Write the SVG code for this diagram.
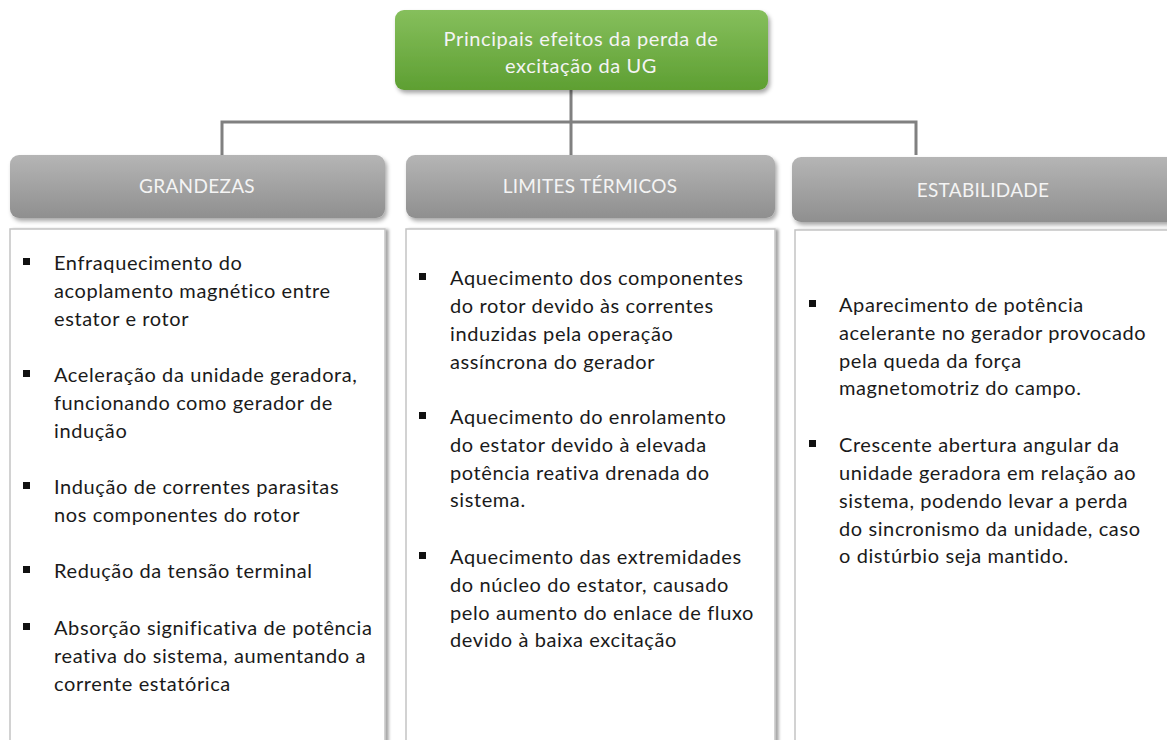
<svg xmlns="http://www.w3.org/2000/svg" width="1167" height="740" viewBox="0 0 1167 740">
<defs>
<linearGradient id="gGreen" x1="0" y1="0" x2="0" y2="1"><stop offset="0" stop-color="#86bf5c"/><stop offset="1" stop-color="#5e9f32"/></linearGradient>
<linearGradient id="gGray" x1="0" y1="0" x2="0" y2="1"><stop offset="0" stop-color="#b5b5b5"/><stop offset="1" stop-color="#8f8f8f"/></linearGradient>
<filter id="sh" x="-5%" y="-10%" width="115%" height="130%"><feDropShadow dx="2" dy="3" stdDeviation="2" flood-color="#000" flood-opacity="0.35"/></filter>
<filter id="sh2" x="-5%" y="-5%" width="115%" height="115%"><feDropShadow dx="3" dy="1" stdDeviation="1.5" flood-color="#000" flood-opacity="0.35"/></filter>
</defs>
<style>
.hdr{fill:url(#gGray);filter:url(#sh)}
.hdrT{font-family:Lato,"Liberation Sans",sans-serif;font-size:19px;letter-spacing:0.3px;fill:#f4f4f4;text-anchor:middle}
.ttl{font-family:Lato,"Liberation Sans",sans-serif;font-size:20px;letter-spacing:0.6px;fill:#f4f4f4;text-anchor:middle}
.box{fill:#fff;stroke:#c4c4c4;stroke-width:1.5;filter:url(#sh2)}
.t{font-family:Lato,"Liberation Sans",sans-serif;font-size:20px;letter-spacing:0.6px;fill:#1a1a1a}
.b{fill:#111}
.con{fill:none;stroke:#808080;stroke-width:3}
</style>
<rect width="1167" height="740" fill="#fff"/>
<g id="connectors">
<path class="con" d="M571 90V155M222 155V122H916V155"/>
</g>
<g id="root">
<rect x="395" y="10" width="373" height="80" rx="9" fill="url(#gGreen)" filter="url(#sh)"/>
<text x="581" y="46" class="ttl">Principais efeitos da perda de</text>
<text x="581" y="73" class="ttl">excitação da UG</text>
</g>
<g id="grandezas">
<rect class="hdr" x="10" y="155" width="375" height="63" rx="9"/>
<text class="hdrT" x="197" y="193">GRANDEZAS</text>
<rect class="box" x="10" y="229" width="375" height="530"/>
<rect class="b" x="23" y="258" width="7" height="7"/>
<text class="t" x="54" y="270">Enfraquecimento do</text>
<text class="t" x="54" y="298">acoplamento magnético entre</text>
<text class="t" x="54" y="326">estator e rotor</text>
<rect class="b" x="23" y="370" width="7" height="7"/>
<text class="t" x="54" y="382">Aceleração da unidade geradora,</text>
<text class="t" x="54" y="410">funcionando como gerador de</text>
<text class="t" x="54" y="438">indução</text>
<rect class="b" x="23" y="482" width="7" height="7"/>
<text class="t" x="54" y="494">Indução de correntes parasitas</text>
<text class="t" x="54" y="522">nos componentes do rotor</text>
<rect class="b" x="23" y="566" width="7" height="7"/>
<text class="t" x="54" y="578">Redução da tensão terminal</text>
<rect class="b" x="23" y="623" width="7" height="7"/>
<text class="t" x="54" y="635">Absorção significativa de potência</text>
<text class="t" x="54" y="663">reativa do sistema, aumentando a</text>
<text class="t" x="54" y="691">corrente estatórica</text>
</g>
<g id="limites">
<rect class="hdr" x="406" y="155" width="369" height="63" rx="9"/>
<text class="hdrT" x="590" y="193">LIMITES TÉRMICOS</text>
<rect class="box" x="406" y="229" width="369" height="530"/>
<rect class="b" x="419" y="273" width="7" height="7"/>
<text class="t" x="450" y="285">Aquecimento dos componentes</text>
<text class="t" x="450" y="313">do rotor devido às correntes</text>
<text class="t" x="450" y="341">induzidas pela operação</text>
<text class="t" x="450" y="369">assíncrona do gerador</text>
<rect class="b" x="419" y="412" width="7" height="7"/>
<text class="t" x="450" y="424">Aquecimento do enrolamento</text>
<text class="t" x="450" y="452">do estator devido à elevada</text>
<text class="t" x="450" y="480">potência reativa drenada do</text>
<text class="t" x="450" y="507">sistema.</text>
<rect class="b" x="419" y="552" width="7" height="7"/>
<text class="t" x="450" y="564">Aquecimento das extremidades</text>
<text class="t" x="450" y="592">do núcleo do estator, causado</text>
<text class="t" x="450" y="620">pelo aumento do enlace de fluxo</text>
<text class="t" x="450" y="647">devido à baixa excitação</text>
</g>
<g id="estabilidade">
<rect class="hdr" x="792" y="157" width="390" height="65" rx="9"/>
<text class="hdrT" x="983" y="197">ESTABILIDADE</text>
<rect class="box" x="795" y="230" width="390" height="530"/>
<rect class="b" x="809" y="300" width="7" height="7"/>
<text class="t" x="839" y="312">Aparecimento de potência</text>
<text class="t" x="839" y="340">acelerante no gerador provocado</text>
<text class="t" x="839" y="368">pela queda da força</text>
<text class="t" x="839" y="395">magnetomotriz do campo.</text>
<rect class="b" x="809" y="440" width="7" height="7"/>
<text class="t" x="839" y="452">Crescente abertura angular da</text>
<text class="t" x="839" y="480">unidade geradora em relação ao</text>
<text class="t" x="839" y="508">sistema, podendo levar a perda</text>
<text class="t" x="839" y="536">do sincronismo da unidade, caso</text>
<text class="t" x="839" y="563">o distúrbio seja mantido.</text>
</g>
</svg>
